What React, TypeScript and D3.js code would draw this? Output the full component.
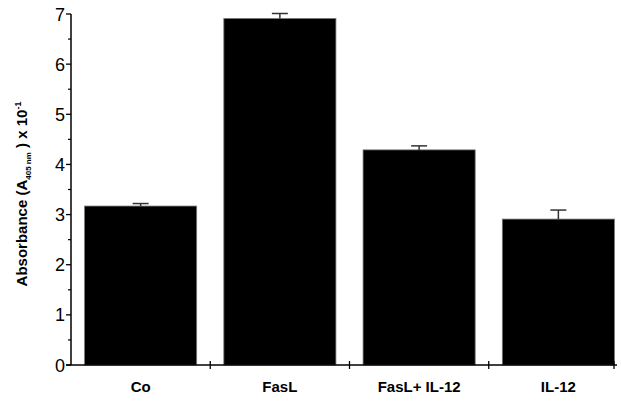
import * as d3 from 'd3';

const categories = ['Co', 'FasL', 'FasL+ IL-12', 'IL-12'];
const means = [3.17, 6.91, 4.29, 2.91];
const errors = [0.05, 0.1, 0.08, 0.18];
const yTicks = [0, 1, 2, 3, 4, 5, 6, 7];

const App = () => {
  const width = 621;
  const height = 403;
  const left = 71;
  const axisEnd = 617;
  const top = 14;
  const bottom = 365;

  const yScale = d3.scaleLinear().domain([0, 7]).range([bottom, top]);
  const xScale = d3.scaleBand()
    .domain(categories)
    .range([left, 628])
    .paddingInner(0.195)
    .paddingOuter(0.0975);

  const minor = d3.range(0.5, 7, 1);
  const boundaries = categories.slice(1).map((c) => xScale(c) - (xScale.step() - xScale.bandwidth()) / 2);

  return (
    <svg width={width} height={height} style={{ position: 'absolute', left: 0, top: 0 }}
      fontFamily="'Liberation Sans', Arial, sans-serif">
      <rect width={width} height={height} fill="#fff" />
      {means.map((v, i) => (
        <rect
          key={categories[i]}
          x={xScale(categories[i])}
          y={yScale(v)}
          width={xScale.bandwidth()}
          height={bottom - yScale(v)}
          fill="#000"
          stroke="#777"
          strokeWidth={0.8}
        />
      ))}
      {means.map((v, i) => {
        const cx = xScale(categories[i]) + xScale.bandwidth() / 2;
        return (
          <g key={'e' + i} stroke="#333" strokeWidth={1.5}>
            <line x1={cx} x2={cx} y1={yScale(v)} y2={yScale(v + errors[i])} />
            <line x1={cx - 8} x2={cx + 8} y1={yScale(v + errors[i])} y2={yScale(v + errors[i])} />
          </g>
        );
      })}
      {/* y axis */}
      <line x1={left} x2={left} y1={top} y2={bottom} stroke="#000" strokeWidth={1.5} />
      {yTicks.map((t) => (
        <g key={t} transform={`translate(0,${yScale(t)})`}>
          <line x1={left - 5} x2={left} stroke="#000" strokeWidth={1.3} />
          <text x={left - 6} y={6.5} textAnchor="end" fontSize={18}>{t}</text>
        </g>
      ))}
      {minor.map((t) => (
        <line key={'m' + t} x1={left - 3} x2={left} y1={yScale(t)} y2={yScale(t)} stroke="#000" strokeWidth={1.2} />
      ))}
      {/* x axis */}
      <line x1={left - 5} x2={axisEnd} y1={bottom} y2={bottom} stroke="#000" strokeWidth={1.5} />
      {boundaries.map((b, i) => (
        <line key={'b' + i} x1={b} x2={b} y1={bottom - 4} y2={bottom + 4} stroke="#000" strokeWidth={1.3} />
      ))}
      <line x1={axisEnd - 3} x2={axisEnd - 3} y1={bottom - 4} y2={bottom + 4} stroke="#000" strokeWidth={1.3} />
      {categories.map((c) => (
        <text key={c} x={xScale(c) + xScale.bandwidth() / 2} y={392} textAnchor="middle"
          fontSize={15} fontWeight="bold">{c}</text>
      ))}
      <text transform="translate(27,194) rotate(-90)" textAnchor="middle" fontSize={15} fontWeight="bold">
        Absorbance (A<tspan fontSize={8} dy={4}>405 nm</tspan><tspan dy={-4}> ) x 10</tspan>
        <tspan fontSize={9} dy={-6}>-1</tspan>
      </text>
    </svg>
  );
};

export default App;
